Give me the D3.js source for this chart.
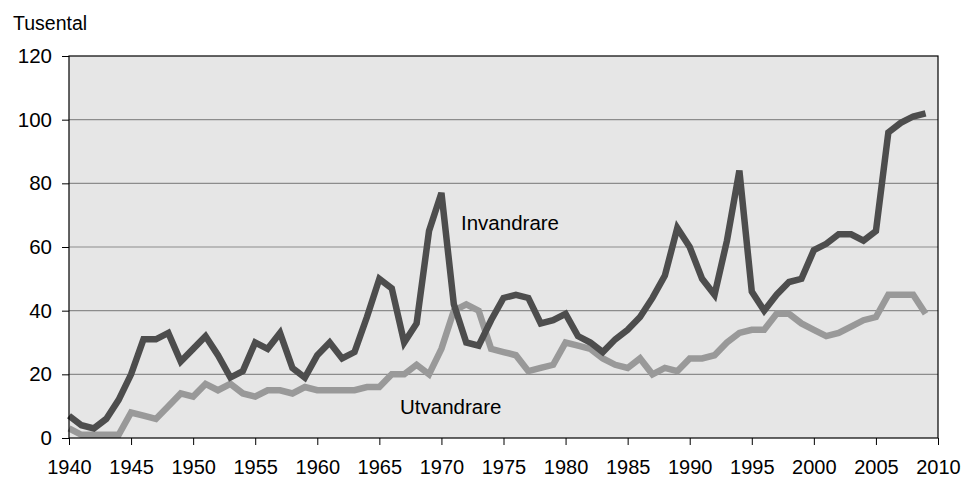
<!DOCTYPE html>
<html lang="sv">
<head>
  <meta charset="UTF-8">
  <title>Invandrare och utvandrare 1940-2009</title>
  <script src="https://d3js.org/d3.v7.min.js"></script>
  <style>
    body { margin: 0; background: #fff; }
    svg text { font-family: "Liberation Sans", Arial, sans-serif; fill: #000; }
  </style>
</head>
<body>
  <svg width="964" height="477"></svg>

  <script>
    // Years 1940-2009, values in thousands
    const years = d3.range(1940, 2010);

    const invandrare = [
      7, 4, 3, 6, 12, 20, 31, 31, 33, 24,
      28, 32, 26, 19, 21, 30, 28, 33, 22, 19,
      26, 30, 25, 27, 38, 50, 47, 30, 36, 65,
      77, 42, 30, 29, 37, 44, 45, 44, 36, 37,
      39, 32, 30, 27, 31, 34, 38, 44, 51, 66,
      60, 50, 45, 62, 84, 46, 40, 45, 49, 50,
      59, 61, 64, 64, 62, 65, 96, 99, 101, 102
    ];

    const utvandrare = [
      3, 1, 1, 1, 1, 8, 7, 6, 10, 14,
      13, 17, 15, 17, 14, 13, 15, 15, 14, 16,
      15, 15, 15, 15, 16, 16, 20, 20, 23, 20,
      28, 40, 42, 40, 28, 27, 26, 21, 22, 23,
      30, 29, 28, 25, 23, 22, 25, 20, 22, 21,
      25, 25, 26, 30, 33, 34, 34, 39, 39, 36,
      34, 32, 33, 35, 37, 38, 45, 45, 45, 39
    ];

    const yTicks = [0, 20, 40, 60, 80, 100, 120];
    const xTicks = d3.range(1940, 2011, 5);

    const svg = d3.select("svg");
    const margin = { top: 56, right: 26, bottom: 39, left: 69 };
    const width = 964, height = 477;

    const x = d3.scaleLinear()
      .domain([1940, 2010])
      .range([margin.left, width - margin.right]);

    const y = d3.scaleLinear()
      .domain([0, 120])
      .range([height - margin.bottom, margin.top]);

    // plot background
    svg.append("rect")
      .attr("x", x(1940))
      .attr("y", y(120))
      .attr("width", x(2010) - x(1940))
      .attr("height", y(0) - y(120))
      .attr("fill", "#e6e6e6");

    // horizontal gridlines
    svg.append("g")
      .selectAll("line")
      .data(yTicks.slice(1, -1))
      .enter().append("line")
      .attr("x1", x(1940))
      .attr("x2", x(2010))
      .attr("y1", d => y(d))
      .attr("y2", d => y(d))
      .attr("stroke", "#8c8c8c")
      .attr("stroke-width", 1.2);

    // lines
    const line = data => d3.line()
      .x((d, i) => x(years[i]))
      .y(d => y(d))(data);

    svg.append("path")
      .attr("d", line(utvandrare))
      .attr("fill", "none")
      .attr("stroke", "#999999")
      .attr("stroke-width", 6.5)
      .attr("stroke-linejoin", "miter");

    svg.append("path")
      .attr("d", line(invandrare))
      .attr("fill", "none")
      .attr("stroke", "#4d4d4d")
      .attr("stroke-width", 6.5)
      .attr("stroke-linejoin", "miter");

    // plot border
    svg.append("rect")
      .attr("x", x(1940))
      .attr("y", y(120))
      .attr("width", x(2010) - x(1940))
      .attr("height", y(0) - y(120))
      .attr("fill", "none")
      .attr("stroke", "#000")
      .attr("stroke-width", 1.2);

    // axes
    const yAxis = svg.append("g")
      .attr("transform", `translate(${x(1940)},0)`)
      .call(d3.axisLeft(y).tickValues(yTicks).tickSize(7).tickPadding(10));
    yAxis.select(".domain").remove();
    yAxis.selectAll("text").style("font-size", "20.5px");

    const xAxis = svg.append("g")
      .attr("transform", `translate(0,${y(0)})`)
      .call(d3.axisBottom(x).tickValues(xTicks).tickFormat(d3.format("d")).tickSize(7).tickPadding(15));
    xAxis.select(".domain").remove();
    xAxis.selectAll("text").style("font-size", "20px");

    // titles and labels
    svg.append("text")
      .attr("x", 13)
      .attr("y", 30)
      .style("font-size", "19.5px")
      .text("Tusental");

    svg.append("text")
      .attr("x", 461)
      .attr("y", 229.5)
      .style("font-size", "20.5px")
      .text("Invandrare");

    svg.append("text")
      .attr("x", 400)
      .attr("y", 414)
      .style("font-size", "20.5px")
      .text("Utvandrare");
  </script>
</body>
</html>
